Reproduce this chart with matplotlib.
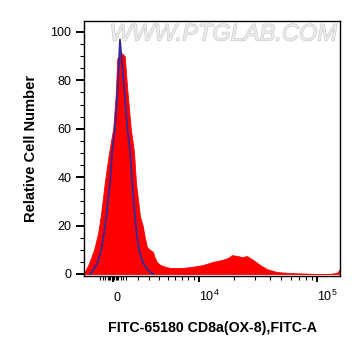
import numpy as np
import matplotlib
matplotlib.use("Agg")
import matplotlib.pyplot as plt
import matplotlib.patheffects as pe

plt.rcParams['font.family'] = ['Liberation Sans', 'DejaVu Sans']
plt.rcParams['mathtext.fontset'] = 'custom'
plt.rcParams['mathtext.rm'] = 'Liberation Sans'
plt.rcParams['mathtext.it'] = 'Liberation Sans'

# sample histogram (FITC-A, relative cell number)
red_x = [-2345, -2256, -1910, -1492, -1168, -954, -641, -308, 23, 208, 331,
         641, 907, 1113, 1386, 1657, 1825, 2169, 2433, 2524, 2800, 3087, 3385,
         3586, 3804, 4118, 4688, 5302, 7154, 8845, 10867, 13308, 15882, 17898,
         19361, 21740, 23493, 25901, 29100, 33296, 38086, 46137, 59200, 75960,
         99270, 127300, 145600, 154200]
red_y = [0.5, 1.0, 4.4, 9.9, 16.8, 23.7, 37.5, 50.0, 60.3, 74.0, 89.0,
         91.3, 90.0, 76.0, 60.3, 50.4, 37.5, 23.7, 19.5, 16.8, 11.0, 10.0, 9.0,
         6.5, 4.8, 3.8, 3.0, 2.5, 2.5, 3.0, 3.7, 5.0, 5.8, 6.6,
         7.8, 7.4, 7.0, 7.4, 5.8, 3.7, 2.0, 0.8, 0.4, 0.2,
         0.0, 0.0, 0.5, 2.0]

# isotype / control overlay
blue_x = [-1825, -1633, -1225, -907, -695, -516, -231, -54, 154, 331, 539,
          907, 1113, 1330, 1517, 1741, 1885, 2081, 2460, 2990, 3385]
blue_y = [0.0, 1.0, 4.4, 9.9, 16.8, 23.7, 37.5, 51.2, 60.3, 74.0, 96.8,
          74.0, 60.3, 51.0, 37.5, 23.7, 16.8, 9.9, 4.4, 1.0, 0.0]

x_major = [0, 1e4, 1e5]
x_major_labels = ['0', '$10^4$', '$10^5$']
x_minor = [-1000, -800, -600, -400, -300, -200, -100, 100, 200, 300, 400, 600, 800,
           1000, 2000, 3000, 4000, 5000, 6000, 7000, 8000, 9000,
           20000, 30000, 40000, 50000, 60000, 70000, 80000, 90000]

W = 4019.0


def fwd(x):
    return np.arcsinh(np.asarray(x) / W)


def inv(y):
    return W * np.sinh(np.asarray(y))


fig = plt.figure(figsize=(3.61, 3.56), dpi=100)
ax = fig.add_axes([84 / 361, 1 - 276 / 356, 256 / 361, 255 / 356])
ax.set_xscale('function', functions=(fwd, inv))

ax.fill_between(red_x, red_y, 0, color='#ff0000', lw=0.6, zorder=2)
ax.plot(blue_x, blue_y, color='#32289a', lw=1.3, zorder=3)

ax.set_xlim(-2345, 154200)
ax.set_ylim(-0.83, 104.5)

ax.set_xticks(x_major)
ax.set_xticklabels(x_major_labels)
ax.set_xticks(x_minor, minor=True)
ax.set_yticks([0, 20, 40, 60, 80, 100])
ax.set_yticks([v for v in range(5, 105, 5) if v % 20], minor=True)

ax.tick_params(which='major', length=5.5, width=1.4, labelsize=9, color='black')
ax.tick_params(which='minor', length=3, width=0.8)
ax.tick_params(axis='y', which='major', pad=3.5)
ax.tick_params(axis='x', which='major', length=4.5, pad=13.5)
for lbl in ax.get_xticklabels():
    lbl.set_verticalalignment('baseline')
    lbl.set_horizontalalignment('left')
for s in ax.spines.values():
    s.set_linewidth(1.0)

ax.set_ylabel('Relative Cell Number', fontsize=10.6, fontweight='bold', labelpad=9)
ax.set_xlabel('FITC-65180 CD8a(OX-8),FITC-A', fontsize=10.2, fontweight='bold', labelpad=12)

ax.text(0.988, 0.949, 'WWW.PTGLAB.COM', transform=ax.transAxes, ha='right', va='center',
        fontsize=17, style='italic', color='#ececec', zorder=1,
        path_effects=[pe.withStroke(linewidth=0.9, foreground='#c8c8c8')])

fig.savefig('out.png', dpi=100)
